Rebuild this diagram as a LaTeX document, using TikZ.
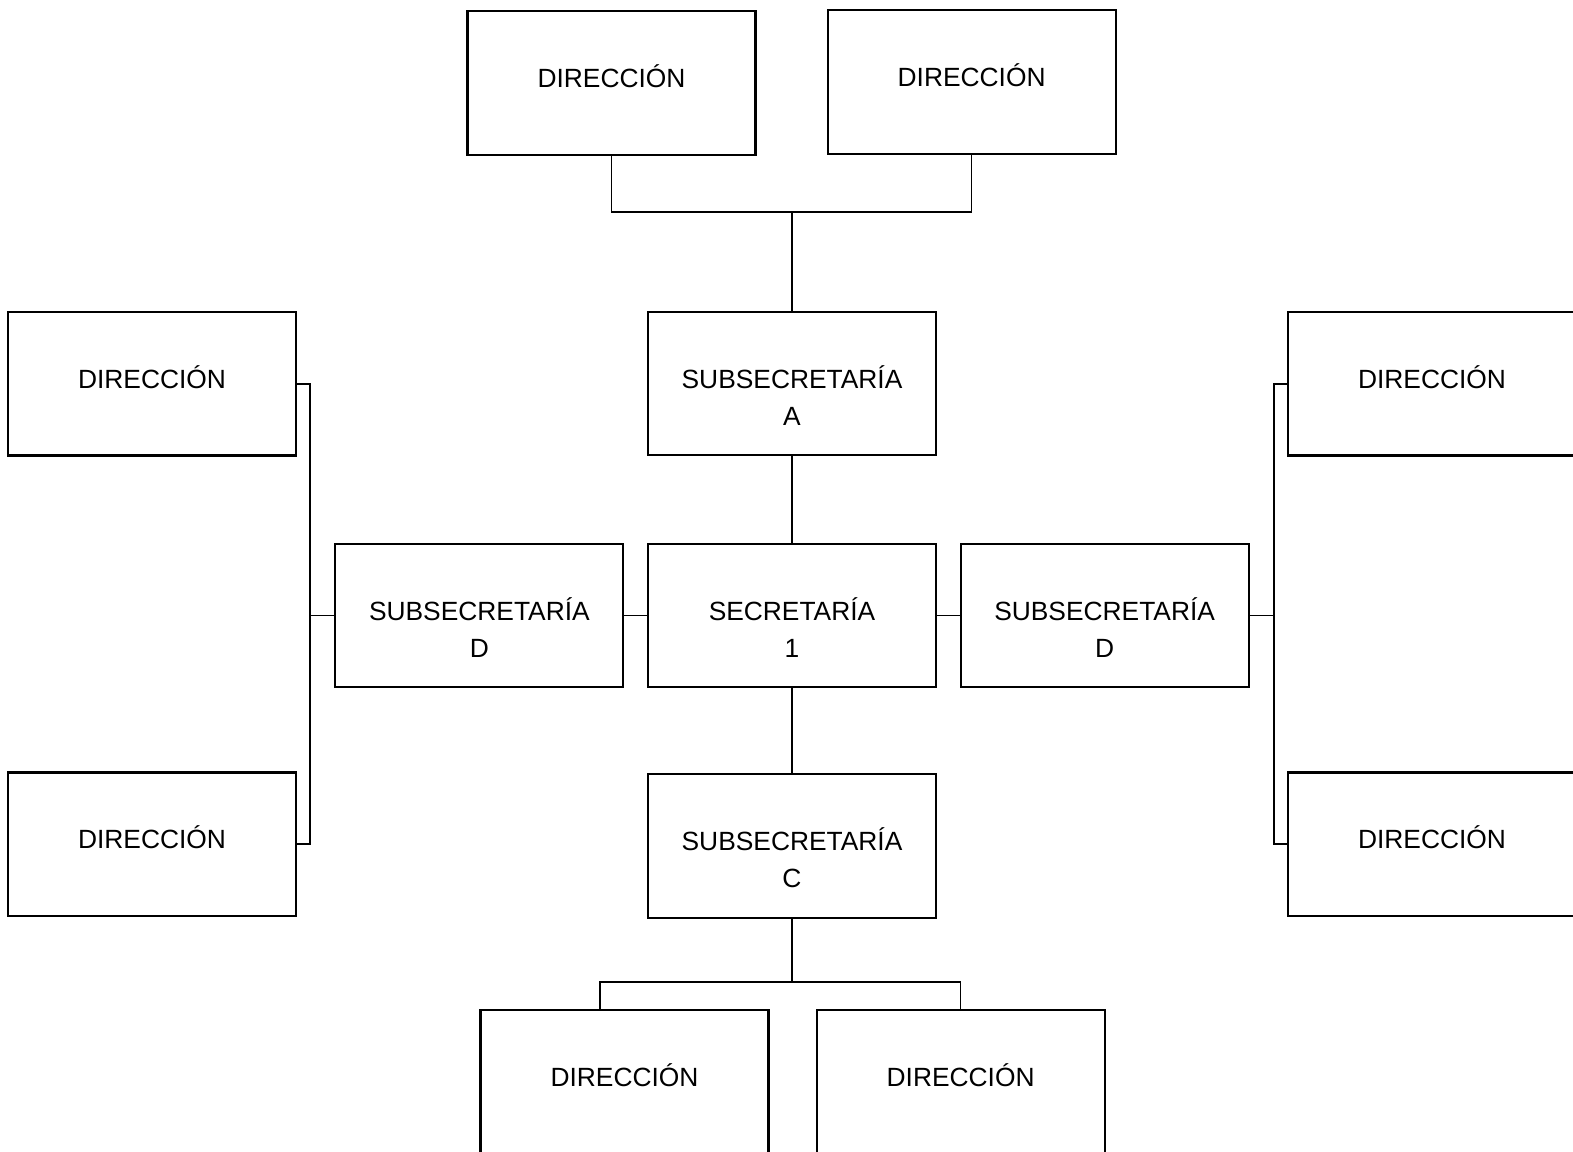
\documentclass[tikz,border=0pt]{standalone}
\usepackage{fontspec}
\setmainfont{Liberation Sans}
\usetikzlibrary{positioning}

\begin{document}
\begin{tikzpicture}[
        box/.style={draw, line width=0.6pt, minimum width=2.88cm, minimum height=1.435cm, inner sep=0pt},
        title/.style={label={[anchor=north, yshift=-0.54cm, align=center, inner sep=0pt,
            font=\fontsize{7.5}{10.5}\selectfont]north:{#1}}},
        link/.style={draw, line width=0.5pt}]
    \clip (0,0) rectangle (15.73,-11.51);
    % centre
    \node[box, title={SECRETARÍA\\1}] (sec) at (7.92,-6.155) {};
    \node[box, title={SUBSECRETARÍA\\A}, above=0.865cm of sec] (subA) {};
    \node[box, title={SUBSECRETARÍA\\C}, below=0.85cm of sec] (subC) {};
    \node[box, title={SUBSECRETARÍA\\D}, left=0.225cm of sec] (subDL) {};
    \node[box, title={SUBSECRETARÍA\\D}, right=0.225cm of sec] (subDR) {};
    % direcciones
    \node[box, title={DIRECCIÓN}] (dirTL) at (6.115,-0.828) {};
    \node[box, title={DIRECCIÓN}] (dirTR) at (9.716,-0.818) {};
    \node[box, title={DIRECCIÓN}] (dirL1) at (1.52,-3.837) {};
    \node[box, title={DIRECCIÓN}] (dirL2) at (1.52,-8.442) {};
    \node[box, title={DIRECCIÓN}] (dirR1) at (14.32,-3.837) {};
    \node[box, title={DIRECCIÓN}] (dirR2) at (14.32,-8.442) {};
    \node[box, title={DIRECCIÓN}] (dirB1) at (6.245,-10.82) {};
    \node[box, title={DIRECCIÓN}] (dirB2) at (9.606,-10.82) {};
    % connectors
    \coordinate (topbar) at (subA.north |- 0,-2.117);
    \draw[link] (dirTL.south) |- (topbar) -| (dirTR.south);
    \draw[link] (topbar) -- (subA.north);
    \draw[link] (subA) -- (sec);
    \draw[link] (sec) -- (subC);
    \draw[link] (sec) -- (subDL);
    \draw[link] (sec) -- (subDR);
    \draw[link] (subDL.west) -- ++(-0.24,0) coordinate (lbar);
    \draw[link] (dirL1.east) -| (lbar) |- (dirL2.east);
    \draw[link] (subDR.east) -- ++(0.24,0) coordinate (rbar);
    \draw[link] (dirR1.west) -| (rbar) |- (dirR2.west);
    \draw[link] (subC.south) -- ++(0,-0.63) coordinate (botbar);
    \draw[link] ([xshift=-0.245cm]dirB1.north) |- (botbar) -| (dirB2.north);
\end{tikzpicture}
\end{document}
